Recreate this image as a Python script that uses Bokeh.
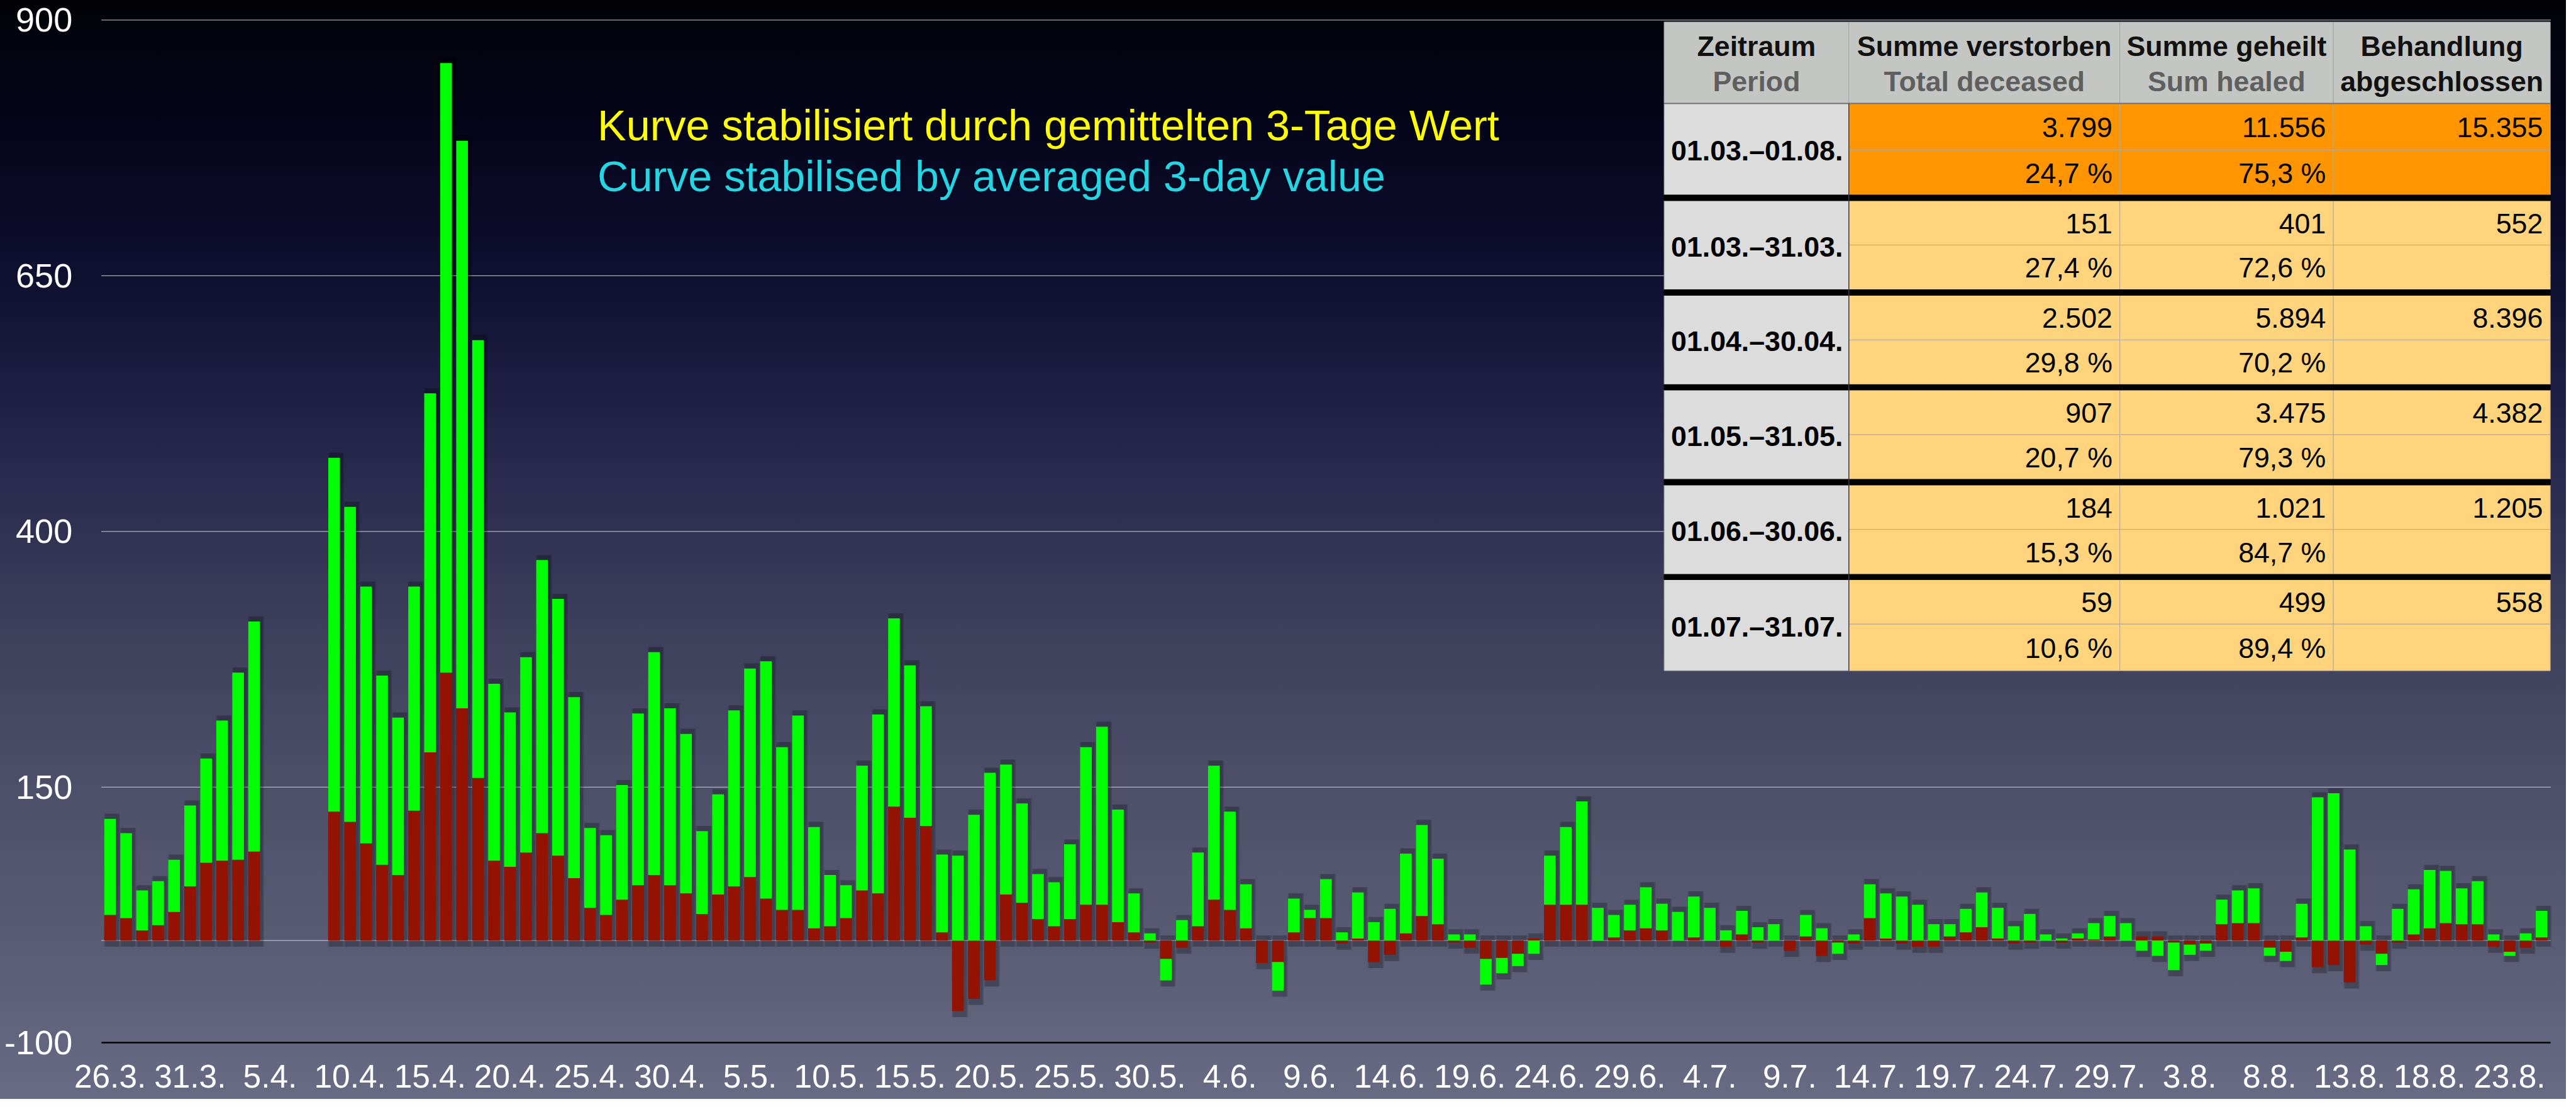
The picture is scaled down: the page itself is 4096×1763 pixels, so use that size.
from bokeh.plotting import figure
from bokeh.models import ColumnDataSource, Range1d, FixedTicker
from bokeh.core.properties import value
from bokeh.embed import file_html
from bokeh.resources import INLINE

# ---------------- data ----------------
x_tick_labels = ["26.3.", "31.3.", "5.4.", "10.4.", "15.4.", "20.4.", "25.4.", "30.4.",
                 "5.5.", "10.5.", "15.5.", "20.5.", "25.5.", "30.5.", "4.6.", "9.6.",
                 "14.6.", "19.6.", "24.6.", "29.6.", "4.7.", "9.7.", "14.7.", "19.7.",
                 "24.7.", "29.7.", "3.8.", "8.8.", "13.8.", "18.8.", "23.8."]

# daily values (averaged 3-day), from 26.3. onward; None = no value
deceased = [25, 22, 10, 15, 28, 53, 76, 78, 79, 87,
            None, None, None, None,
            126, 116, 95, 74, 64, 127, 184, 262, 227, 159,
            78, 72, 86, 105, 83, 61, 32, 25, 40, 54,
            64, 54, 46, 26, 45, 53, 62, 41, 30, 30,
            12, 14, 22, 49, 46, 131, 120, 112, 8, -69,
            -57, -39, 45, 37, 21, 14, 21, 35, 35, 18,
            8, -2, -18, -7, 14, 40, 30, 12, -22, -21,
            8, 22, 22, -3, 2, -21, -14, 7, 24, 16,
            -2, -7, -18, -17, -13, 2, 35, 35, 35, 0,
            3, 10, 12, 10, 0, 3, 0, -6, 6, -2,
            0, -10, 4, -15, -2, -3, 22, 2, -3, -6,
            -6, 4, 8, 13, 2, -3, -2, 0, -2, 2,
            1, 4, 0, 4, 4, -2, -4, -3, 16, 17,
            17, -7, -11, 3, -26, -24, -41, -4, -13, -2,
            6, 12, 17, 16, 16, -6, -11, -7, 3]

healed = [94, 83, 39, 43, 51, 79, 102, 137, 183, 225,
          None, None, None, None,
          346, 308, 251, 185, 154, 219, 351, 596, 555, 428,
          173, 151, 191, 267, 251, 177, 78, 78, 112, 168,
          218, 173, 156, 81, 98, 172, 204, 232, 159, 190,
          99, 50, 32, 122, 175, 184, 149, 117, 76, 83,
          123, 164, 127, 97, 44, 43, 73, 154, 174, 110,
          38, 7, -21, 20, 72, 131, 96, 43, 0, -28,
          33, 8, 38, 8, 45, 18, 31, 78, 89, 64,
          6, 6, -25, -15, -12, -13, 48, 76, 101, 32,
          22, 25, 40, 26, 28, 40, 32, 10, 23, 13,
          16, 0, 21, 12, -11, 6, 33, 44, 43, 35,
          16, 12, 23, 34, 30, 14, 26, 6, 2, 5,
          16, 20, 17, -10, -15, -27, -10, -7, 24, 32,
          34, -8, -9, 33, 140, 144, 89, 14, -11, 31,
          44, 57, 51, 35, 42, 6, -4, 7, 26]

y_ticks = [-100, 150, 400, 650, 900]

table_head_de = ["Zeitraum", "Summe verstorben", "Summe geheilt", "Behandlung"]
table_head_en = ["Period", "Total deceased", "Sum healed", "abgeschlossen"]
periods = ["01.03.–01.08.", "01.03.–31.03.", "01.04.–30.04.", "01.05.–31.05.",
           "01.06.–30.06.", "01.07.–31.07."]
sum_deceased = ["3.799", "151", "2.502", "907", "184", "59"]
sum_healed = ["11.556", "401", "5.894", "3.475", "1.021", "499"]
sum_completed = ["15.355", "552", "8.396", "4.382", "1.205", "558"]
pct_deceased = ["24,7 %", "27,4 %", "29,8 %", "20,7 %", "15,3 %", "10,6 %"]
pct_healed = ["75,3 %", "72,6 %", "70,2 %", "79,3 %", "84,7 %", "89,4 %"]

note_de = "Kurve stabilisiert durch gemittelten 3-Tage Wert"
note_en = "Curve stabilised by averaged 3-day value"

# ---------------- geometry (reference pixels -> data) ----------------
REF_W, REF_H = 4825, 2077
W, H = 4080, 1747
SX, SY = W / REF_W, H / REF_H
FS = (SX + SY) / 2

X0_PX, STEP_PX = 206.5, 30.08
Y0_PX, UNIT_PX = 1777.0, 1.933


def dx(px):
    return (px - X0_PX) / STEP_PX


def dy(py):
    return (Y0_PX - py) / UNIT_PX


PLOT_L, PLOT_R = 190, 4796          # extent of grid lines / x axis line (ref px)
FONT = "Liberation Sans"


def fpx(size):
    return f"{size * FS:.1f}px"


p = figure(width=W, height=H, output_backend="svg", toolbar_location=None,
           x_range=Range1d(dx(0), dx(REF_W)),
           y_range=Range1d(dy(REF_H), dy(0)),
           min_border_left=0, min_border_right=0, min_border_top=0, min_border_bottom=0,
           min_border=0)
p.styles = {"background": "linear-gradient(180deg, #020207 0%, #05051c 12%, #0f0f30 25%, "
                          "#24254a 40%, #3b3c59 55%, #4c4e68 70%, #595b74 85%, #686b83 100%)"}
p.background_fill_alpha = 0
p.border_fill_alpha = 0
p.outline_line_color = None

# axes (placed inside the frame at fixed positions)
p.xaxis.fixed_location = y_ticks[0]
p.xaxis.bounds = (dx(PLOT_L), dx(PLOT_R))
p.xaxis.ticker = FixedTicker(ticks=[i * 5 for i in range(len(x_tick_labels))])
p.xaxis.major_label_overrides = {i * 5: lab for i, lab in enumerate(x_tick_labels)}
p.xaxis.major_label_text_font = FONT
p.xaxis.major_label_text_font_size = fpx(61)
p.xaxis.major_label_text_color = "white"
p.xaxis.major_label_standoff = 35
p.xaxis.major_tick_out = 0
p.xaxis.major_tick_in = 0
p.xaxis.minor_tick_out = 0
p.xaxis.minor_tick_in = 0
p.xaxis.axis_line_color = "black"
p.xaxis.axis_line_width = 2.5

p.yaxis.fixed_location = dx(PLOT_L)
p.yaxis.ticker = FixedTicker(ticks=y_ticks)
p.yaxis.major_label_overrides = {t: str(t) for t in y_ticks}
p.yaxis.major_label_text_font = FONT
p.yaxis.major_label_text_font_size = fpx(64)
p.yaxis.major_label_text_color = "white"
p.yaxis.major_label_standoff = round(54 * SX)
p.yaxis.major_tick_out = 0
p.yaxis.major_tick_in = 0
p.yaxis.minor_tick_out = 0
p.yaxis.minor_tick_in = 0
p.yaxis.axis_line_color = None

p.xgrid.visible = False
p.ygrid.visible = False
# horizontal grid lines at the y ticks, spanning the plot area only
p.segment(x0=[dx(PLOT_L)] * 4, x1=[dx(PLOT_R)] * 4, y0=y_ticks[1:], y1=y_ticks[1:],
          line_color="#c4c4cc", line_alpha=0.85, line_width=1.2, level="underlay")
p.segment(x0=[dx(PLOT_L)], x1=[dx(PLOT_R)], y0=[0], y1=[0],
          line_color="#b8b8c2", line_width=1.2, level="underlay")

# ---------------- bars (stacked: positives up, negatives down) ----------------
xs, r0, r1, g0, g1, s0, s1 = [], [], [], [], [], [], []
for i, (r, g) in enumerate(zip(deceased, healed)):
    if r is None or g is None:
        continue
    xs.append(i)
    r0.append(0)
    r1.append(r)
    base = max(r, 0) if g >= 0 else min(r, 0)
    g0.append(base)
    g1.append(base + g)
    lo = min(0, r, base + g)
    hi = max(0, r, base + g)
    s0.append(lo - 6)
    s1.append(hi + 5)

src = ColumnDataSource(dict(x=xs, r0=r0, r1=r1, g0=g0, g1=g1, s0=s0, s1=s1,
                            xsh=[x + 0.12 for x in xs]))
p.vbar(x="xsh", bottom="s0", top="s1", width=1.0, fill_color="black",
       fill_alpha=0.13, line_color=None, source=src)
p.vbar(x="xsh", bottom="s0", top="s1", width=0.86, fill_color="black",
       fill_alpha=0.15, line_color=None, source=src)
p.vbar(x="x", bottom="r0", top="r1", width=0.73, fill_color="#931200",
       line_color=None, source=src)
p.vbar(x="x", bottom="g0", top="g1", width=0.73, fill_color="#00ff00",
       line_color=None, source=src)

# ---------------- note text ----------------
p.text(x=[dx(1123), dx(1123)], y=[dy(236), dy(332)], text=[note_de, note_en],
       text_color=["#ffff00", "#22d6e2"], text_font=value(FONT),
       text_font_size=fpx(81), text_baseline="middle", text_align="left")

# ---------------- table ----------------
col_px = [3128.6, 3476, 3985.6, 4387, 4795]
head_px = (41, 195)
rows_px = [(195, 283, 368), (378.6, 462.5, 547), (557.6, 642, 726.3),
           (736.5, 821, 905.4), (916, 1000, 1085), (1095, 1179, 1267)]

q = dict(l=[], r=[], t=[], b=[], c=[], lc=[])


def cell(l, r, t, b, c, lc):
    q["l"].append(dx(l)); q["r"].append(dx(r))
    q["t"].append(dy(t)); q["b"].append(dy(b))
    q["c"].append(c); q["lc"].append(lc)


for k in range(4):
    cell(col_px[k], col_px[k + 1], head_px[0], head_px[1], "#c4c6c4", "#a4a6a4")
for ri, (t, m, b) in enumerate(rows_px):
    body = "#ff9500" if ri == 0 else "#ffd47c"
    cell(col_px[0], col_px[1], t, b, "#dcdcdc", "#9a9a9a")
    for k in range(1, 4):
        cell(col_px[k], col_px[k + 1], t, m, body, "#b4aa96")
        cell(col_px[k], col_px[k + 1], m, b, body, "#b4aa96")
for ri in range(len(rows_px) - 1):
    cell(col_px[0], col_px[-1], rows_px[ri][2], rows_px[ri + 1][0], "black", "black")

p.quad(left="l", right="r", top="t", bottom="b", fill_color="c", line_color="lc",
       line_width=1, source=ColumnDataSource(q))
p.segment(x0=[dx(col_px[0])], x1=[dx(col_px[-1])], y0=[dy(head_px[1])], y1=[dy(head_px[1])],
          line_color="#707070", line_width=2)
p.segment(x0=[dx(col_px[1])], x1=[dx(col_px[1])], y0=[dy(head_px[1])], y1=[dy(rows_px[-1][2])],
          line_color="#3a3a50", line_width=1.5)

tx = dict(x=[], y=[], text=[], color=[], align=[], style=[])


def put(px, py, s, color, align, style):
    tx["x"].append(dx(px)); tx["y"].append(dy(py)); tx["text"].append(s)
    tx["color"].append(color); tx["align"].append(align); tx["style"].append(style)


for k in range(4):
    cx = (col_px[k] + col_px[k + 1]) / 2
    put(cx, 86.5, table_head_de[k], "#111111", "center", "bold")
    put(cx, 153, table_head_en[k], "#111111" if k == 3 else "#5f5f5f", "center", "bold")

for ri, (t, m, b) in enumerate(rows_px):
    put(col_px[0] + 13, (t + b) / 2 + 3, periods[ri], "black", "left", "bold")
    y1 = (t + m) / 2 + 1
    y2 = (m + b) / 2 + 1
    put(col_px[2] - 14, y1, sum_deceased[ri], "black", "right", "normal")
    put(col_px[3] - 14, y1, sum_healed[ri], "black", "right", "normal")
    put(col_px[4] - 14, y1, sum_completed[ri], "black", "right", "normal")
    put(col_px[2] - 14, y2, pct_deceased[ri], "black", "right", "normal")
    put(col_px[3] - 14, y2, pct_healed[ri], "black", "right", "normal")

p.text(x="x", y="y", text="text", text_color="color", text_align="align",
       text_font_style="style", text_font=value(FONT), text_font_size=fpx(53),
       text_baseline="middle", source=ColumnDataSource(tx))

open("out.html", "w").write(file_html(p, INLINE))
